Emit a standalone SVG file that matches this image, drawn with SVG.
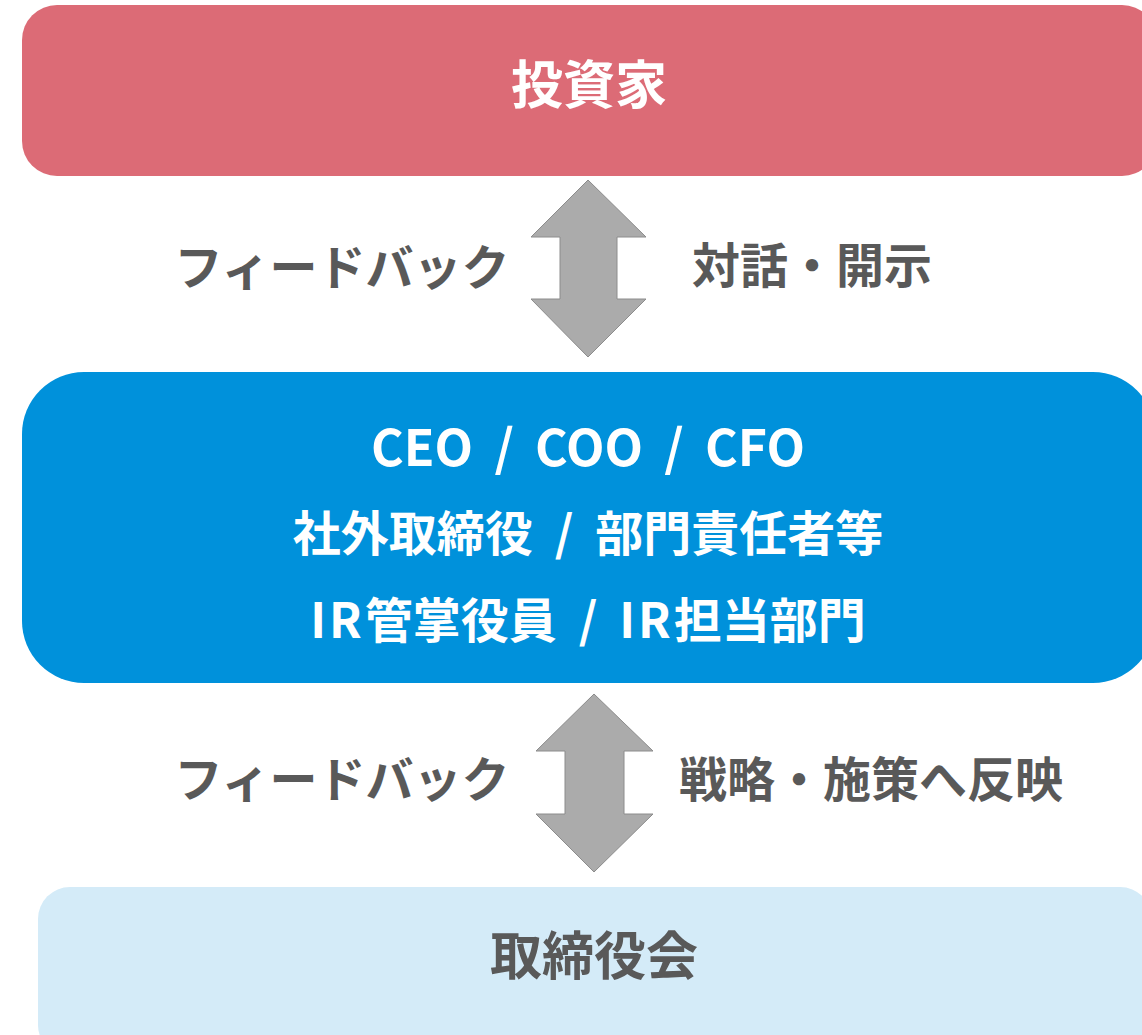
<svg xmlns="http://www.w3.org/2000/svg" width="1142" height="1035" viewBox="0 0 1142 1035">
<style>
text{font-family:"Noto Sans CJK JP","Noto Sans",sans-serif;font-weight:bold;text-anchor:middle}
.w{fill:#ffffff}
.g{fill:#595959}
.arr{fill:#ABABAB;stroke:#8C8C8C;stroke-width:1}
</style>
<rect width="1142" height="1035" fill="#ffffff"/>
<g id="investor">
<rect x="22" y="5" width="1135" height="171" rx="35" fill="#DC6B76"/>
<text class="w" x="589" y="104" font-size="52">投資家</text>
</g>
<g id="management">
<rect x="22" y="372" width="1133" height="311" rx="62" fill="#0091DB"/>
<text class="w" x="588" y="466" font-size="50" word-spacing="10">CEO / COO / CFO</text>
<text class="w" x="588" y="551" font-size="48" word-spacing="11">社外取締役 / 部門責任者等</text>
<text class="w" x="588" y="638" font-size="48" word-spacing="11"><tspan letter-spacing="3">IR</tspan>管掌役員 / <tspan letter-spacing="3">IR</tspan>担当部門</text>
</g>
<g id="board">
<rect x="38" y="887" width="1114" height="170" rx="32" fill="#D4EBF8"/>
<text class="g" x="594" y="975" font-size="52">取締役会</text>
</g>
<g id="connectors">
<polygon class="arr" points="588,180 646,237 617,237 617,299 646,299 588,357 531,299 560,299 560,237 531,237"/>
<polygon class="arr" points="594,694 653,751 624,751 624,814 653,814 594,872 536,814 565,814 565,751 536,751"/>
<text class="g" x="342" y="285" font-size="48">フィードバック</text>
<text class="g" x="812" y="283" font-size="48">対話・開示</text>
<text class="g" x="342" y="797" font-size="48">フィードバック</text>
<text class="g" x="871" y="797" font-size="48">戦略・施策へ反映</text>
</g>
</svg>
